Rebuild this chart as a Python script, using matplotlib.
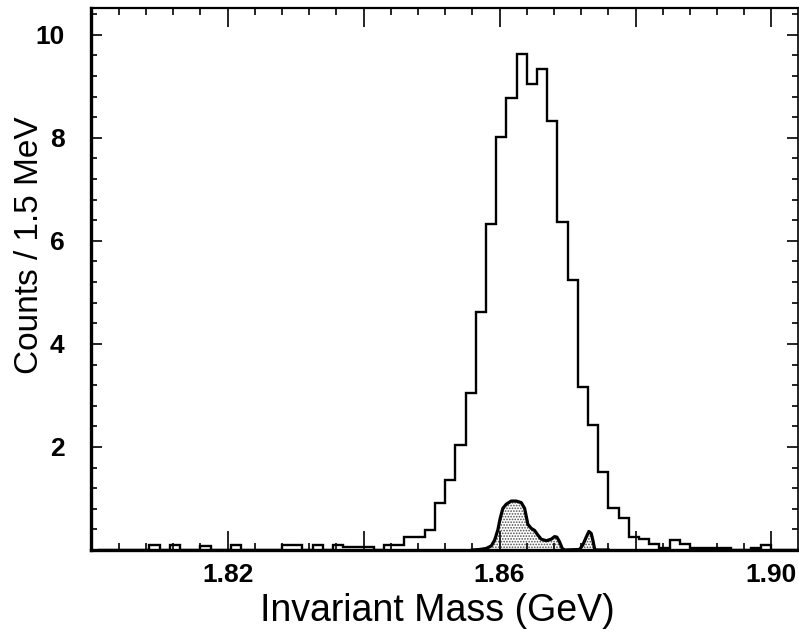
import matplotlib
matplotlib.use("Agg")
import matplotlib.pyplot as plt
import numpy as np
from matplotlib.ticker import MultipleLocator

# histogram: 1.5 MeV bins starting at 1.801 GeV
bin_start = 1.801
bin_width = 0.0015
counts = [
    0, 0, 0, 0, 0, 0.1, 0, 0.1, 0, 0,
    0.08, 0, 0, 0.1, 0, 0, 0, 0, 0.1, 0.1,
    0, 0.1, 0, 0.1, 0.06, 0.06, 0.06, 0, 0.1, 0.1,
    0.26, 0.26, 0.39, 0.91, 1.36, 2.04, 3.05, 4.62, 6.33, 8.01,
    8.78, 9.62, 9.05, 9.33, 8.33, 6.37, 5.24, 3.16, 2.43, 1.51,
    0.81, 0.62, 0.26, 0.21, 0.12, 0.04, 0.19, 0.12, 0.04, 0.04,
    0.04, 0.04, 0, 0, 0.04, 0.1, 0, 0, 0,
]

# shaded background component (smooth curve)
bkg_mass = [
    1.8560, 1.85706, 1.85804, 1.85878, 1.85927, 1.85975, 1.86010, 1.86049,
    1.86099, 1.86172, 1.86246, 1.86319, 1.86368, 1.86393, 1.86416, 1.86466,
    1.86515, 1.86563, 1.86613, 1.86687, 1.86760, 1.86809, 1.86843, 1.86882,
    1.86922, 1.86956, 1.87177, 1.87225, 1.87275, 1.87313, 1.87349, 1.87372,
    1.87397, 1.87412, 1.8760,
]
bkg_vals = [
    0, 0.01, 0.03, 0.08, 0.19, 0.39, 0.62, 0.81,
    0.89, 0.95, 0.95, 0.92, 0.81, 0.65, 0.50, 0.42,
    0.38, 0.29, 0.21, 0.18, 0.21, 0.26, 0.25, 0.16,
    0.03, 0, 0.01, 0.10, 0.25, 0.36, 0.32, 0.19,
    0.03, 0, 0,
]

x_major = [1.80, 1.82, 1.84, 1.86, 1.88, 1.90]
x_labels = ["", "1.82", "", "1.86", "", "1.90"]
y_major = [2, 4, 6, 8, 10]
y_labels = ["2", "4", "6", "8", "10"]

plt.rcParams["font.family"] = ["Liberation Sans", "DejaVu Sans"]
plt.rcParams["hatch.linewidth"] = 0.8

fig = plt.figure(figsize=(7.99, 6.34), dpi=100)
ax = fig.add_axes([91 / 799, 84 / 634, 707 / 799, 542 / 634])

edges = bin_start + bin_width * np.arange(len(counts) + 1)
ax.stairs(counts, edges, color="black", linewidth=1.7)

ax.fill_between(bkg_mass, 0, bkg_vals, facecolor="white", edgecolor="0.3",
                hatch="......", linewidth=0)
ax.plot(bkg_mass, bkg_vals, color="black", linewidth=2.3, solid_joinstyle="round")

ax.set_xlim(1.7999, 1.9039)
ax.set_ylim(0, 10.52)

ax.set_xticks(x_major)
ax.set_xticklabels(x_labels, fontweight="bold")
ax.set_yticks(y_major)
ax.set_yticklabels(y_labels, fontweight="bold")
ax.xaxis.set_minor_locator(MultipleLocator(0.004))
ax.yaxis.set_minor_locator(MultipleLocator(0.4))

ax.tick_params(which="both", direction="in", top=True, right=True, width=1.2)
ax.tick_params(axis="x", which="major", length=14, pad=9, labelsize=19)
ax.tick_params(axis="x", which="minor", length=5)
ax.tick_params(axis="y", which="major", length=8, pad=19, labelsize=19)
ax.tick_params(axis="y", which="minor", length=4)

ax.spines["left"].set_linewidth(2.4)
ax.spines["bottom"].set_linewidth(2.4)
ax.spines["top"].set_linewidth(1.6)
ax.spines["right"].set_linewidth(1.2)

ax.set_xlabel("Invariant Mass (GeV)", fontsize=27, va="baseline")
ax.set_ylabel("Counts / 1.5 MeV", fontsize=24, va="baseline")
ax.xaxis.set_label_coords(0.49, -0.131)
ax.yaxis.set_label_coords(-0.075, 0.563)

fig.savefig("out.png", dpi=100)
